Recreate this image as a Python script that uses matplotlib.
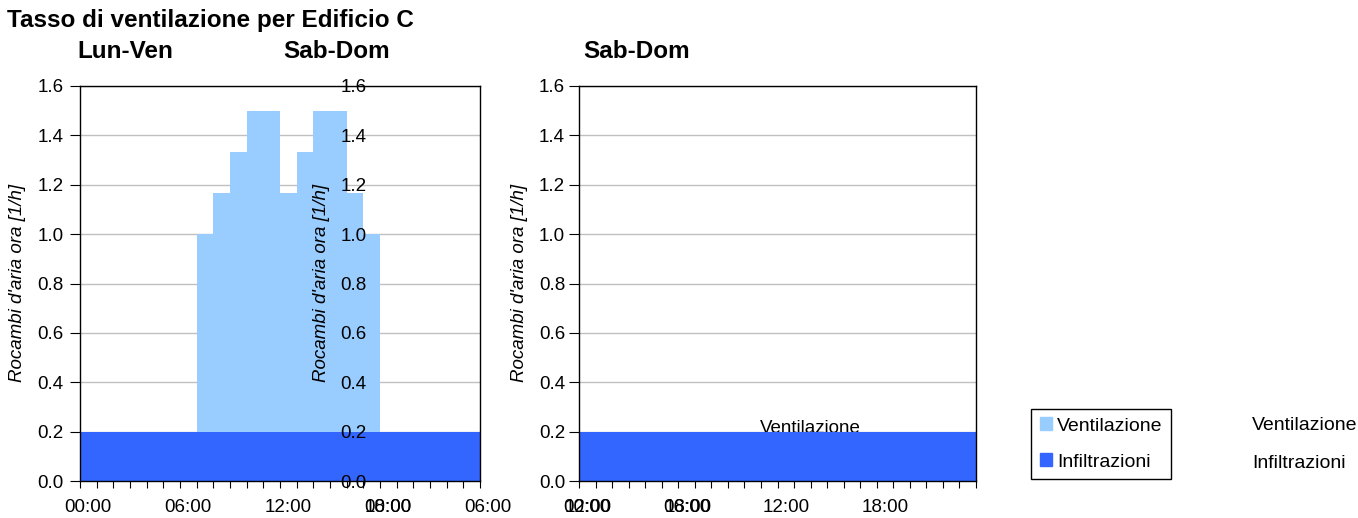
import numpy as np
import matplotlib
matplotlib.use("Agg")
import matplotlib.pyplot as plt
from matplotlib.patches import Patch

plt.rcParams['font.family'] = ['Liberation Sans', 'DejaVu Sans']

# dati orari (0..23)
ore = np.arange(25)  # bordi delle fasce orarie
infiltrazioni_feriali = [0.2] * 24
ventilazione_feriali = [0, 0, 0, 0, 0, 0, 0,
                        0.8, 0.967, 1.133, 1.3, 1.3, 0.967, 1.133, 1.3, 1.3, 0.967, 0.8,
                        0, 0, 0, 0, 0, 0]
infiltrazioni_festivi = [0.2] * 24
ventilazione_festivi = [0] * 24

etichette_x = ['00:00', '06:00', '12:00', '18:00']
pos_x = [0.5, 6.5, 12.5, 18.5]
etichette_y = np.arange(0, 1.61, 0.2)

C_VENT = '#99CCFF'
C_INF = '#3366FF'
W, H = 1358, 518

fig = plt.figure(figsize=(W / 100, H / 100), dpi=100)

def px_axes(x0, x1, y_top=86, y_bot=481):
    return [x0 / W, 1 - y_bot / H, (x1 - x0) / W, (y_bot - y_top) / H]

def setup(ax, ytick_pad):
    ax.set_xlim(0, 24)
    ax.set_ylim(0, 1.6)
    ax.set_yticks(etichette_y)
    ax.set_yticklabels(['%.1f' % v for v in etichette_y])
    ax.set_xticks(pos_x)
    ax.set_xticklabels(etichette_x)
    ax.set_xticks(np.arange(25), minor=True)
    ax.tick_params(axis='x', which='major', length=0, pad=13, labelsize=13.5)
    ax.tick_params(axis='x', which='minor', length=5, direction='out', width=0.8)
    ax.tick_params(axis='y', length=7, width=0.8, pad=ytick_pad, labelsize=13.5)
    ax.grid(axis='y', color='#C0C0C0', lw=1)
    ax.set_axisbelow(True)
    for s in ax.spines.values():
        s.set_linewidth(1)
        s.set_color('black')

def area(ax, inf, vent):
    inf = np.array(inf)
    tot = inf + np.array(vent)
    ax.stairs(inf, ore, baseline=0, fill=True, color=C_INF, lw=0, zorder=2)
    ax.stairs(tot, ore, baseline=inf, fill=True, color=C_VENT, lw=0, zorder=2)

# Lun-Ven
ax1 = fig.add_axes(px_axes(80, 480))
setup(ax1, 5)
area(ax1, infiltrazioni_feriali, ventilazione_feriali)

# Sab-Dom
ax2 = fig.add_axes(px_axes(579, 976))
setup(ax2, 3)
ax2.text(14.0, 0.212, 'Ventilazione', ha='center', va='center', fontsize=13.5, zorder=1)
area(ax2, infiltrazioni_festivi, ventilazione_festivi)

# asse fantasma sovrapposto
ax3 = fig.add_axes(px_axes(380, 780))
ax3.set_xlim(0, 24)
ax3.set_ylim(0, 1.6)
ax3.patch.set_visible(False)
for s in ax3.spines.values():
    s.set_visible(False)
ax3.set_yticks(etichette_y)
ax3.set_yticklabels(['%.1f' % v for v in etichette_y])
ax3.set_xticks(pos_x)
ax3.set_xticklabels(etichette_x)
ax3.tick_params(axis='y', length=0, pad=9.5, labelsize=13.5)
ax3.tick_params(axis='x', length=0, pad=13, labelsize=13.5)

ylab = "Rocambi d'aria ora [1/h]"
for x in (18, 321, 520):
    fig.text(x / W, 1 - 283 / H, ylab, rotation=90, ha='center', va='center',
             fontsize=13.5, style='italic')

fig.text(7 / W, 1 - 20 / H, 'Tasso di ventilazione per Edificio C', fontsize=17.5,
         fontweight='bold', va='center')
fig.text(77 / W, 1 - 52 / H, 'Lun-Ven', fontsize=17.5, fontweight='bold', va='center')
fig.text(283 / W, 1 - 52 / H, 'Sab-Dom', fontsize=17.5, fontweight='bold', va='center')
fig.text(583 / W, 1 - 52 / H, 'Sab-Dom', fontsize=17.5, fontweight='bold', va='center')

handles = [Patch(color=C_VENT, label='Ventilazione'), Patch(color=C_INF, label='Infiltrazioni')]
fig.legend(handles=handles, loc='center', bbox_to_anchor=(1101 / W, 1 - 444 / H),
           frameon=True, fancybox=False, edgecolor='black', framealpha=1,
           fontsize=14, handlelength=0.65, handleheight=0.65, handletextpad=0.25,
           labelspacing=0.95, borderpad=0.45, borderaxespad=0)
fig.text(1252 / W, 1 - 426 / H, 'Ventilazione', fontsize=14, va='center')
fig.text(1252 / W, 1 - 463 / H, 'Infiltrazioni', fontsize=14, va='center')

fig.savefig('out.png', dpi=100)
